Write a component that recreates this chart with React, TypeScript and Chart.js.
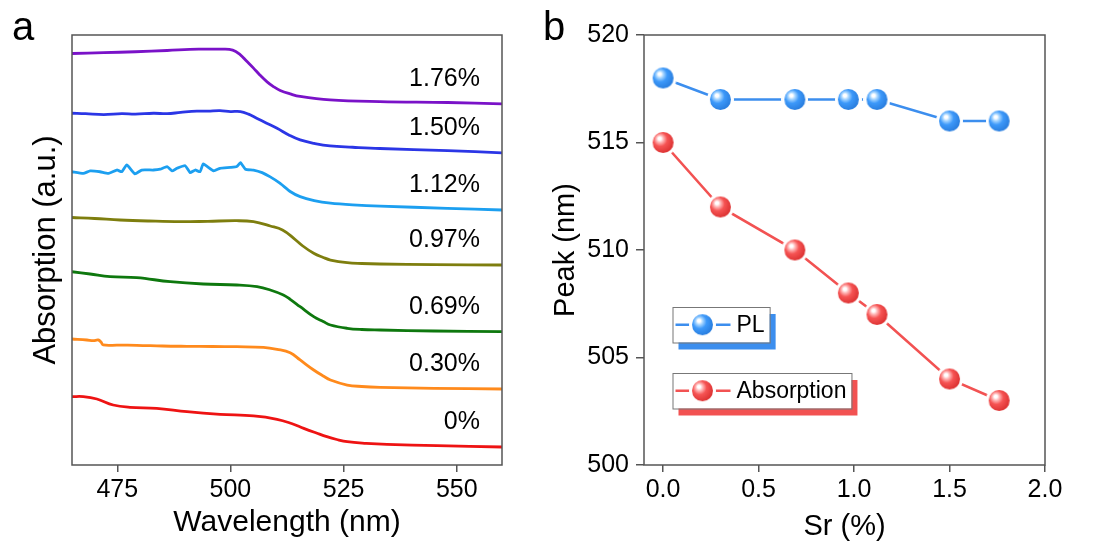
import React, { useEffect, useRef } from "react";
import { Chart, registerables } from "chart.js";

Chart.register(...registerables);

const FONT = "'Liberation Sans', Arial, Helvetica, sans-serif";

// ---------------- Panel a : absorption spectra (offset, a.u.) ----------------
const wl000 = [465, 467.5, 470.5, 474.1, 477.8, 483.7, 490.4, 497.7, 505.1, 510.3, 513.5, 516.2, 519, 521.3, 523.5, 525.8, 530, 534.6, 545.7, 560];
const ab000 = [15.9, 15.9, 15.35, 13.95, 13.42, 13.19, 12.4, 11.79, 11.4, 10.63, 9.65, 8.53, 7.44, 6.58, 5.93, 5.42, 5.05, 4.81, 4.49, 4.19];

const wl030 = [465, 468.3, 469.7, 470.8, 471.4, 471.9, 475, 479.3, 485, 490.4, 496, 501.4, 507.3, 510.3, 513.2, 515.4, 518.4, 520.5, 522.1, 525.8, 529, 533.1, 545, 560];
const ab030 = [29.3, 29.07, 28.91, 29.07, 28.6, 27.91, 27.86, 27.84, 27.67, 27.6, 27.56, 27.51, 27.37, 26.91, 26.12, 24.42, 22.09, 20.7, 19.77, 18.6, 18.26, 18.07, 17.84, 17.67];

const wl069 = [465, 469, 473.4, 479.3, 486.7, 494, 501.4, 505.9, 508.8, 511.7, 513.2, 515.4, 518.4, 520.5, 522.1, 525.8, 529, 533.1, 545, 560];
const ab069 = [44.95, 44.42, 43.79, 43.56, 42.63, 42.09, 41.86, 41.47, 40.7, 39.53, 38.53, 36.81, 34.49, 33.37, 32.56, 31.79, 31.51, 31.4, 31.16, 31.0];

const wl097 = [465, 470, 475.6, 482, 488.9, 495, 501.4, 505.1, 508.8, 511.5, 514, 516, 518.4, 520.5, 522.1, 525.8, 529, 533, 545, 560];
const ab097 = [57.56, 57.33, 56.98, 56.74, 56.58, 56.67, 56.81, 56.58, 55.58, 54.65, 52.72, 50.93, 49.23, 48.26, 47.67, 47.05, 46.86, 46.74, 46.58, 46.51];

const wl112 = [465, 467.5, 469, 471.2, 473, 474.9, 476, 477.1, 478.9, 480.4, 483, 484.5, 486, 487.1, 488.2, 490, 491.1, 492.2, 493.3, 494, 496.3, 497.7, 500, 501.4, 502.2, 503.3, 505.1, 507, 508.8, 511, 513.2, 515.4, 518.5, 522.1, 527, 533.1, 547.9, 560];
const ab112 = [68.2, 67.8, 68.4, 68.2, 67.8, 68.6, 68.2, 69.8, 67.7, 68.6, 68.6, 68.8, 69.4, 68.4, 69.0, 69.6, 68.0, 68.6, 68.2, 70.0, 68.4, 69.0, 69.2, 69.4, 70.3, 68.8, 68.6, 68.0, 67.0, 65.5, 63.6, 62.4, 61.5, 60.9, 60.5, 60.2, 59.7, 59.3];

const wl150 = [465, 468, 472, 476, 479, 483, 486, 489, 492.6, 495, 497.7, 500, 502.2, 504, 505.9, 508, 510.3, 513, 515.4, 518.5, 522, 527, 533, 548, 560];
const ab150 = [81.8, 81.7, 81.5, 81.7, 81.6, 81.8, 81.7, 82.0, 82.3, 82.3, 82.4, 82.2, 82.2, 81.6, 80.6, 79.5, 78.3, 76.7, 75.6, 74.8, 74.2, 73.9, 73.6, 73.1, 72.6];

const wl176 = [465, 472, 479, 486, 493, 498, 500.5, 502.2, 503.5, 505.1, 506.5, 508.1, 509.5, 511, 513.2, 515.4, 522, 533, 548, 560];
const ab176 = [95.7, 95.9, 96.1, 96.4, 96.7, 96.7, 96.5, 95.4, 94.0, 92.3, 90.7, 89.1, 88.0, 87.1, 86.3, 85.7, 84.9, 84.5, 84.3, 84.0];

const sampleNames = ["0%", "0.30%", "0.69%", "0.97%", "1.12%", "1.50%", "1.76%"];
const wavelengthTicks = [475, 500, 525, 550];

// ---------------- Panel b : peak positions ----------------
const srContent = [0, 0.3, 0.69, 0.97, 1.12, 1.5, 1.76];
const plPeak = [518, 517, 517, 517, 517, 516, 516];
const absPeak = [515, 512, 510, 508, 507, 504, 503];
const seriesNames = ["PL", "Absorption"];
const srTicks = [0, 0.5, 1.0, 1.5, 2.0];
const peakTicks = [500, 505, 510, 515, 520];

// ---------------- styles ----------------
const curveColors = ["#EE1313", "#FF8A1C", "#0E780E", "#7E7E0E", "#1C9FF0", "#2B36E6", "#7A12C8"];
const curveTension = [0.4, 0.4, 0.4, 0.4, 0.15, 0.4, 0.4];
const FRAME = "#555555";

function makeSphere(base: string, light: string, dark: string) {
  const r = 10.5;
  const ring = 3;
  const size = Math.ceil(2 * (r + ring));
  const c = document.createElement("canvas");
  c.width = size;
  c.height = size;
  const ctx = c.getContext("2d")!;
  const cx = size / 2;
  ctx.fillStyle = "#ffffff";
  ctx.beginPath();
  ctx.arc(cx, cx, r + ring, 0, Math.PI * 2);
  ctx.fill();
  const g = ctx.createRadialGradient(cx - r * 0.35, cx - r * 0.4, 0, cx - r * 0.2, cx - r * 0.2, r * 1.2);
  g.addColorStop(0, "#ffffff");
  g.addColorStop(0.12, "#ffffff");
  g.addColorStop(0.28, light);
  g.addColorStop(0.55, base);
  g.addColorStop(1, dark);
  ctx.fillStyle = g;
  ctx.beginPath();
  ctx.arc(cx, cx, r, 0, Math.PI * 2);
  ctx.fill();
  return c;
}

function tickGrid(len: number) {
  return {
    display: true,
    drawOnChartArea: false,
    drawTicks: true,
    tickLength: len,
    color: FRAME,
    lineWidth: 1.5,
  };
}

const framePlugin = {
  id: "frame",
  afterDatasetsDraw(chart: any) {
    const { ctx, chartArea: ca } = chart;
    ctx.save();
    ctx.strokeStyle = FRAME;
    ctx.lineWidth = 1.5;
    ctx.strokeRect(ca.left, ca.top, ca.right - ca.left, ca.bottom - ca.top);
    ctx.restore();
  },
};

function configA(): any {
  const wls = [wl000, wl030, wl069, wl097, wl112, wl150, wl176];
  const abs = [ab000, ab030, ab069, ab097, ab112, ab150, ab176];
  const labelsPlugin = {
    id: "labelsA",
    afterDatasetsDraw(chart: any) {
      const { ctx, chartArea: ca } = chart;
      ctx.save();
      ctx.font = `25px ${FONT}`;
      ctx.fillStyle = "#000";
      ctx.textAlign = "right";
      ctx.textBaseline = "middle";
      chart.data.datasets.forEach((ds: any, i: number) => {
        const meta = chart.getDatasetMeta(i);
        const last = meta.data[meta.data.length - 1];
        ctx.fillText(ds.label, ca.right - 22, last.y - 25);
      });
      ctx.font = `40px ${FONT}`;
      ctx.textAlign = "left";
      ctx.textBaseline = "alphabetic";
      ctx.fillText("a", 12, 40);
      ctx.restore();
    },
  };
  return {
    type: "line",
    data: {
      datasets: wls.map((wl, i) => ({
        label: sampleNames[i],
        data: wl.map((x, j) => ({ x, y: abs[i][j] })),
        borderColor: curveColors[i],
        backgroundColor: curveColors[i],
        borderWidth: 2.8,
        pointRadius: 0,
        tension: curveTension[i],
        fill: false,
      })),
    },
    options: {
      animation: false,
      responsive: false,
      events: [],
      layout: { padding: { left: 0, top: 35, right: 38, bottom: 0 } },
      plugins: { legend: { display: false }, tooltip: { enabled: false } },
      scales: {
        x: {
          type: "linear",
          min: 465,
          max: 560,
          afterBuildTicks: (s: any) => {
            s.ticks = wavelengthTicks.map((v) => ({ value: v }));
          },
          afterFit: (s: any) => {
            s.height = 79;
          },
          ticks: { font: { family: FONT, size: 25 }, color: "#000", padding: 3, maxRotation: 0, callback: (v: any) => String(v) },
          grid: tickGrid(7),
          border: { display: false },
          title: { display: true, text: "Wavelength (nm)", color: "#000", font: { family: FONT, size: 30 }, padding: { top: 0, bottom: 3 } },
        },
        y: {
          type: "linear",
          min: 0,
          max: 100,
          afterFit: (s: any) => {
            s.width = 72;
          },
          ticks: { display: false },
          grid: { display: false },
          border: { display: false },
          title: { display: true, text: "Absorption (a.u.)", color: "#000", font: { family: FONT, size: 31 }, padding: { top: 28, bottom: 0 } },
        },
      },
    },
    plugins: [framePlugin, labelsPlugin],
  };
}

function configB(): any {
  const blueSphere = makeSphere("#3D99FA", "#A8D6FF", "#2A7FE0");
  const redSphere = makeSphere("#F65454", "#FFB8B8", "#DE3434");
  const lineColors = ["#3C8EEE", "#F25252"];
  const values = [plPeak, absPeak];
  const spheres = [blueSphere, redSphere];
  const legendTops = [307, 373];
  const legendPlugin = {
    id: "legendB",
    afterDatasetsDraw(chart: any) {
      const { ctx, chartArea: ca } = chart;
      ctx.save();
      chart.data.datasets.forEach((ds: any, i: number) => {
        ctx.font = `23px ${FONT}`;
        const tw = ctx.measureText(ds.label).width;
        const L = ca.left + 28.5;
        const T = legendTops[i];
        const H = 35.5;
        const W = 64 + tw + 5;
        ctx.fillStyle = ds.borderColor;
        ctx.fillRect(L + 6, T + 7, W, H);
        ctx.fillStyle = "#fff";
        ctx.fillRect(L, T, W, H);
        ctx.strokeStyle = "#777";
        ctx.lineWidth = 1;
        ctx.strokeRect(L + 0.5, T + 0.5, W, H);
        const cy = T + H / 2;
        ctx.strokeStyle = ds.borderColor;
        ctx.lineWidth = 2.5;
        ctx.beginPath();
        ctx.moveTo(L + 3, cy);
        ctx.lineTo(L + 58, cy);
        ctx.stroke();
        const img = ds.pointStyle;
        ctx.drawImage(img, L + 30 - img.width / 2, cy - img.height / 2);
        ctx.fillStyle = "#000";
        ctx.textAlign = "left";
        ctx.textBaseline = "middle";
        ctx.fillText(ds.label, L + 64, cy + 1);
      });
      ctx.font = `40px ${FONT}`;
      ctx.fillStyle = "#000";
      ctx.textAlign = "left";
      ctx.textBaseline = "alphabetic";
      ctx.fillText("b", 3, 40);
      ctx.restore();
    },
  };
  return {
    type: "line",
    data: {
      datasets: values.map((vals, i) => ({
        label: seriesNames[i],
        data: srContent.map((x, j) => ({ x, y: vals[j] })),
        borderColor: lineColors[i],
        backgroundColor: lineColors[i],
        borderWidth: 2.6,
        pointStyle: spheres[i],
        pointRadius: 13,
        tension: 0,
        fill: false,
      })),
    },
    options: {
      animation: false,
      responsive: false,
      events: [],
      layout: { padding: { left: 0, top: 35, right: 58, bottom: 0 } },
      plugins: { legend: { display: false }, tooltip: { enabled: false } },
      scales: {
        x: {
          type: "linear",
          min: -0.1,
          max: 2.0,
          afterBuildTicks: (s: any) => {
            s.ticks = srTicks.map((v) => ({ value: v }));
          },
          afterFit: (s: any) => {
            s.height = 79;
          },
          ticks: { font: { family: FONT, size: 25 }, color: "#000", padding: 3, maxRotation: 0, callback: (v: any) => Number(v).toFixed(1) },
          grid: tickGrid(7),
          border: { display: false },
          title: { display: true, text: "Sr (%)", color: "#000", font: { family: FONT, size: 29 }, padding: { top: 0, bottom: 0 } },
        },
        y: {
          type: "linear",
          min: 500,
          max: 520,
          afterBuildTicks: (s: any) => {
            s.ticks = peakTicks.map((v) => ({ value: v }));
          },
          afterFit: (s: any) => {
            s.width = 104;
          },
          ticks: { font: { family: FONT, size: 25 }, color: "#000", padding: 7, callback: (v: any) => String(v) },
          grid: tickGrid(8),
          border: { display: false },
          title: { display: true, text: "Peak (nm)", color: "#000", font: { family: FONT, size: 29 }, padding: { top: 9, bottom: 0 } },
        },
      },
    },
    plugins: [framePlugin, legendPlugin],
  };
}

export default function App() {
  const refA = useRef<HTMLCanvasElement>(null);
  const refB = useRef<HTMLCanvasElement>(null);
  useEffect(() => {
    const a = new Chart(refA.current!, configA());
    const b = new Chart(refB.current!, configB());
    return () => {
      a.destroy();
      b.destroy();
    };
  }, []);
  return (
    <div style={{ position: "fixed", left: 0, top: 0, width: 1103, height: 544, background: "#fff" }}>
      <canvas ref={refA} width={540} height={544} style={{ position: "absolute", left: 0, top: 0, width: 540, height: 544 }} />
      <canvas ref={refB} width={563} height={544} style={{ position: "absolute", left: 540, top: 0, width: 563, height: 544 }} />
    </div>
  );
}
